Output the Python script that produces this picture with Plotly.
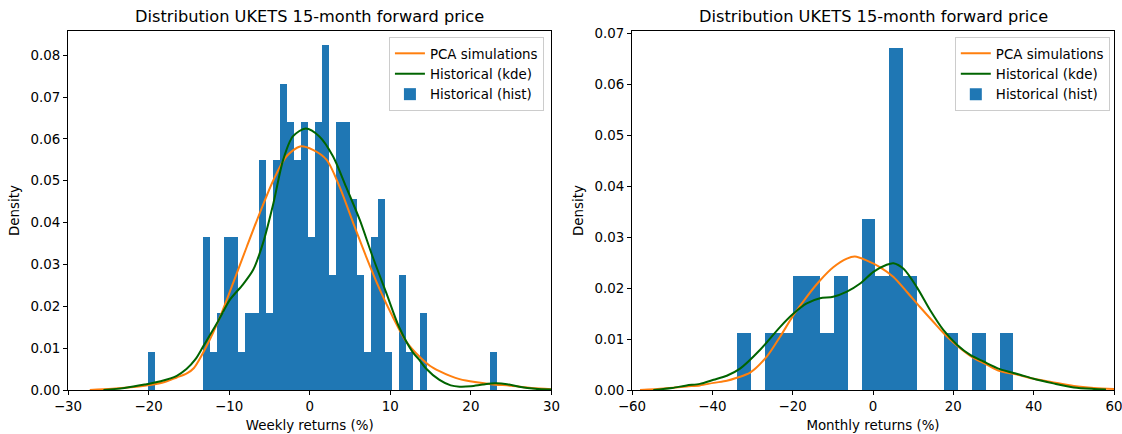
import numpy as np
import plotly.graph_objects as go

# ---------------- data ----------------
# Weekly returns histogram (50 equal bins between the min and max return)
weekly_lo, weekly_hi = -20.13, 23.23
weekly_counts = [1, 0, 0, 0, 0, 0, 0, 0, 4, 1, 2, 4, 4, 1, 2, 2, 6, 2, 6, 8,
                 7, 6, 7, 4, 7, 9, 3, 7, 7, 5, 3, 1, 4, 5, 1, 0, 3, 1, 0, 2,
                 0, 0, 0, 0, 0, 0, 0, 0, 0, 1]

# Monthly returns histogram (20 equal bins)
monthly_lo, monthly_hi = -33.75, 34.95
monthly_counts = [1, 0, 1, 1, 2, 2, 1, 2, 0, 3, 2, 6, 2, 0, 0, 1, 0, 1, 0, 1]

# Weekly: density of PCA simulations
weekly_pca_x = [-27.3, -24.5, -21.5, -19.8, -18.0, -16.5, -15.3, -14.4, -12.8, -11.1,
                -9.5, -7.8, -6.2, -4.5, -2.9, -1.2, 0.4, 2.1, 3.7, 5.4,
                7.0, 8.7, 10.3, 12.0, 13.6, 14.9, 16.1, 17.5, 18.6, 20.5,
                22.5, 25.0, 27.5, 30.0]
weekly_pca_y = [0.0000, 0.0003, 0.0008, 0.0012, 0.0019, 0.0030, 0.0039, 0.0052, 0.0105, 0.0176,
                0.0256, 0.0343, 0.0423, 0.0502, 0.0558, 0.0582, 0.0574, 0.0550, 0.0486, 0.0399,
                0.0319, 0.0240, 0.0175, 0.0115, 0.0080, 0.0058, 0.0045, 0.0033, 0.0026, 0.0019,
                0.0014, 0.0010, 0.0005, 0.0002]

# Weekly: kernel density of historical returns
weekly_kde_x = [-25.6, -23.0, -20.5, -18.5, -16.5, -15.3, -14.2, -13.2, -11.5, -9.9,
                -8.3, -7.0, -5.8, -4.5, -3.3, -2.1, -0.5, 1.2, 2.9, 4.5,
                6.2, 7.8, 9.5, 11.1, 12.8, 13.6, 14.4, 16.1, 17.5, 18.6,
                20.0, 21.5, 23.0, 24.5, 26.0, 28.0, 30.0]
weekly_kde_y = [0.0000, 0.0005, 0.0013, 0.0021, 0.0034, 0.0050, 0.0073, 0.0105, 0.0160, 0.0216,
                0.0252, 0.0288, 0.0351, 0.0447, 0.0550, 0.0606, 0.0625, 0.0606, 0.0558, 0.0486,
                0.0407, 0.0319, 0.0232, 0.0150, 0.0090, 0.0072, 0.0052, 0.0024, 0.0011, 0.0008,
                0.0009, 0.0013, 0.0016, 0.0014, 0.0008, 0.0003, 0.0001]

# Monthly: density of PCA simulations
monthly_pca_x = [-58.0, -52.0, -46.4, -43.1, -39.7, -36.4, -33.9, -30.6, -26.4, -23.1,
                 -19.8, -16.5, -13.2, -9.9, -6.5, -4.5, -1.5, 1.8, 5.1, 8.4,
                 11.7, 15.0, 18.4, 21.7, 25.0, 28.3, 31.6, 36.6, 40.0, 44.9,
                 50.0, 55.0, 60.0]
monthly_pca_y = [0.0000, 0.0003, 0.0007, 0.0009, 0.0014, 0.0018, 0.0024, 0.0034, 0.0066, 0.0105,
                 0.0147, 0.0183, 0.0215, 0.0241, 0.0258, 0.0262, 0.0254, 0.0241, 0.0222, 0.0193,
                 0.0163, 0.0134, 0.0105, 0.0082, 0.0063, 0.0050, 0.0037, 0.0029, 0.0022, 0.0015,
                 0.0008, 0.0004, 0.0002]

# Monthly: kernel density of historical returns
monthly_kde_x = [-54.7, -50.0, -46.4, -43.1, -39.7, -36.4, -33.1, -28.1, -23.1, -19.8,
                 -16.5, -13.2, -9.9, -6.5, -3.2, 0.1, 3.4, 5.1, 7.6, 10.9,
                 14.2, 17.5, 20.9, 24.2, 27.5, 31.6, 36.6, 40.0, 44.9, 50.0,
                 55.0, 58.0]
monthly_kde_y = [0.0000, 0.0004, 0.0009, 0.0012, 0.0020, 0.0028, 0.0042, 0.0079, 0.0124, 0.0150,
                 0.0170, 0.0180, 0.0183, 0.0193, 0.0209, 0.0232, 0.0246, 0.0249, 0.0238, 0.0202,
                 0.0157, 0.0118, 0.0089, 0.0069, 0.0056, 0.0041, 0.0030, 0.0022, 0.0013, 0.0005,
                 0.0002, 0.0001]

weekly_ticks = [-30, -20, -10, 0, 10, 20, 30]
monthly_ticks = [-60, -40, -20, 0, 20, 40, 60]
weekly_yticks = [0.00, 0.01, 0.02, 0.03, 0.04, 0.05, 0.06, 0.07, 0.08]
monthly_yticks = [0.00, 0.01, 0.02, 0.03, 0.04, 0.05, 0.06, 0.07]

title_text = "Distribution UKETS 15-month forward price"

# ---------------- styling ----------------
BLUE = "#1f77b4"
ORANGE = "#ff7f0e"
GREEN = "#006400"
FONT = "DejaVu Sans"
TICK_SIZE = 13.4
TITLE_SIZE = 16.2


def density_bars(lo, hi, counts):
    counts = np.asarray(counts, dtype=float)
    edges = np.linspace(lo, hi, len(counts) + 1)
    width = edges[1] - edges[0]
    centers = (edges[:-1] + edges[1:]) / 2
    dens = counts / (counts.sum() * width)
    return centers, dens, width


def fmt_minus(v):
    s = f"{v:g}"
    return s.replace("-", "\u2212")


fig = go.Figure()

panels = [
    ("x", "y", "legend", weekly_lo, weekly_hi, weekly_counts,
     weekly_pca_x, weekly_pca_y, weekly_kde_x, weekly_kde_y),
    ("x2", "y2", "legend2", monthly_lo, monthly_hi, monthly_counts,
     monthly_pca_x, monthly_pca_y, monthly_kde_x, monthly_kde_y),
]

for xa, ya, lg, lo, hi, counts, px, py, kx, ky in panels:
    fig.add_trace(go.Scatter(
        x=px, y=py, mode="lines", name="PCA simulations",
        line=dict(color=ORANGE, width=2, shape="spline", smoothing=0.8),
        xaxis=xa, yaxis=ya, legend=lg, legendrank=1))
    fig.add_trace(go.Scatter(
        x=kx, y=ky, mode="lines", name="Historical (kde)",
        line=dict(color=GREEN, width=2, shape="spline", smoothing=0.8),
        xaxis=xa, yaxis=ya, legend=lg, legendrank=2))
    cx, dy, w = density_bars(lo, hi, counts)
    fig.add_trace(go.Bar(
        x=cx, y=dy, width=w, name="Historical (hist)",
        marker=dict(color=BLUE, line=dict(width=0)),
        xaxis=xa, yaxis=ya, legend=lg, legendrank=3))

axis_common = dict(
    showline=True, mirror=True, linecolor="black", linewidth=1,
    ticks="outside", ticklen=4, tickwidth=1, tickcolor="black",
    showgrid=False, zeroline=False, automargin=False,
    ticklabeloverflow="allow",
    tickfont=dict(family=FONT, size=TICK_SIZE, color="black"),
)

legend_common = dict(
    xanchor="right", yanchor="top",
    bgcolor="rgba(255,255,255,0.8)", bordercolor="#cccccc", borderwidth=1,
    font=dict(family=FONT, size=TICK_SIZE, color="black"), traceorder="normal",
)

fig.update_layout(
    width=1122, height=434,
    margin=dict(l=68, r=8, t=31, b=44),
    paper_bgcolor="white", plot_bgcolor="white",
    font=dict(family=FONT, size=TICK_SIZE, color="black"),
    bargap=0,
    xaxis=dict(domain=[0, 0.4622], range=[-30, 30],
               tickvals=weekly_ticks, ticktext=[fmt_minus(v) for v in weekly_ticks],
               title=dict(text="Weekly returns (%)", standoff=7,
                          font=dict(family=FONT, size=TICK_SIZE)),
               **axis_common),
    yaxis=dict(range=[0, 0.0858],
               tickvals=weekly_yticks, ticktext=[f"{v:.2f}" for v in weekly_yticks],
               title=dict(text="Density", standoff=7,
                          font=dict(family=FONT, size=TICK_SIZE)),
               **axis_common),
    xaxis2=dict(domain=[0.5392, 1], range=[-60, 60], anchor="y2",
                tickvals=monthly_ticks, ticktext=[fmt_minus(v) for v in monthly_ticks],
                title=dict(text="Monthly returns (%)", standoff=7,
                           font=dict(family=FONT, size=TICK_SIZE)),
                **axis_common),
    yaxis2=dict(range=[0, 0.0705], anchor="x2",
                tickvals=monthly_yticks, ticktext=[f"{v:.2f}" for v in monthly_yticks],
                title=dict(text="Density", standoff=7,
                           font=dict(family=FONT, size=TICK_SIZE)),
                **axis_common),
    legend=dict(x=0.455, y=0.983, **legend_common),
    legend2=dict(x=0.996, y=0.983, **legend_common),
    annotations=[
        dict(text=title_text, xref="x domain", yref="paper", x=0.5, y=1.039,
             xanchor="center", yanchor="middle", showarrow=False,
             font=dict(family=FONT, size=TITLE_SIZE, color="black")),
        dict(text=title_text, xref="x2 domain", yref="paper", x=0.5, y=1.039,
             xanchor="center", yanchor="middle", showarrow=False,
             font=dict(family=FONT, size=TITLE_SIZE, color="black")),
    ],
)

fig.write_html("out.html")
